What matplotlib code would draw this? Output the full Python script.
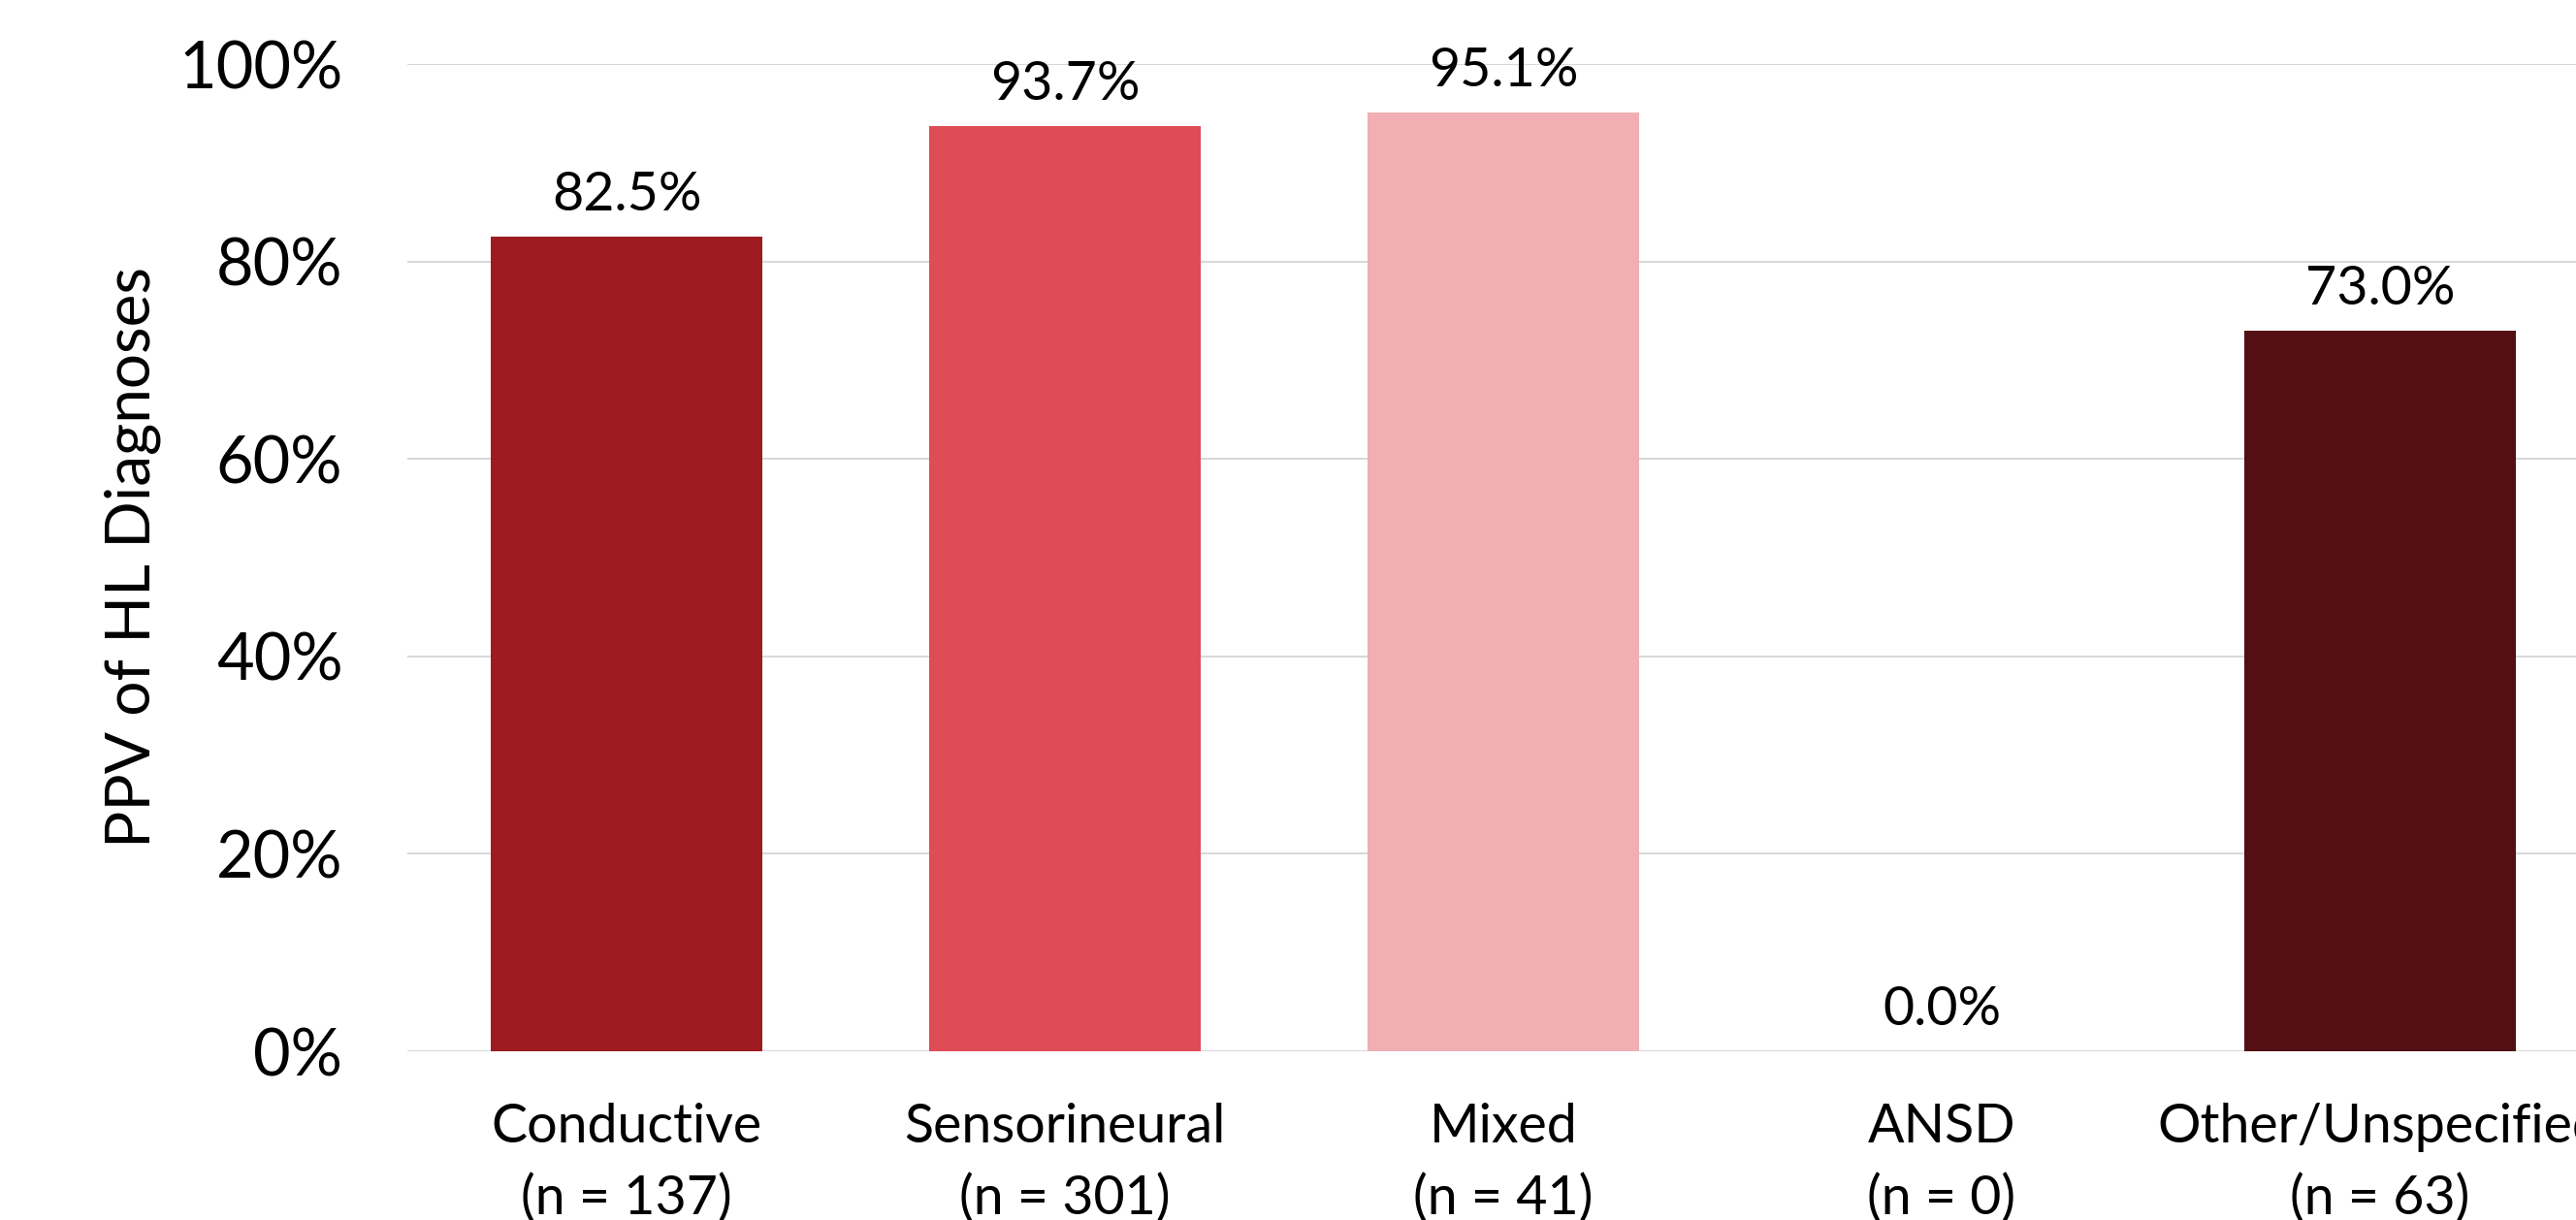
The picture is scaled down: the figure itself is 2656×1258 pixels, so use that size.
import matplotlib
matplotlib.use("Agg")
import matplotlib.pyplot as plt
from matplotlib.ticker import FuncFormatter

plt.rcParams['font.family'] = ['Lato', 'DejaVu Sans']

categories = ["Conductive\n(n = 137)", "Sensorineural\n(n = 301)", "Mixed\n(n = 41)",
              "ANSD\n(n = 0)", "Other/Unspecified\n(n = 63)"]
values = [82.5, 93.7, 95.1, 0.0, 73.0]
colors = ["#9E1B22", "#DF4C55", "#F1AFB4", "#9E1B22", "#530F14"]
yticks = [0, 20, 40, 60, 80, 100]

W, H = 2656, 1258
fig = plt.figure(figsize=(W / 100, H / 100), dpi=100)
left, right = 420, 2680
top, bottom = 66, 1084
ax = fig.add_axes([left / W, 1 - bottom / H, (right - left) / W, (bottom - top) / H])

x = list(range(len(categories)))
bars = ax.bar(x, values, width=0.62, color=colors, zorder=3)
ax.bar_label(bars, labels=[f"{v:.1f}%" for v in values], padding=12, fontsize=40, zorder=4)

ax.set_xlim(-0.5, len(categories) - 0.5)
ax.set_ylim(0, 100)
ax.set_yticks(yticks)
ax.yaxis.set_major_formatter(FuncFormatter(lambda v, p: f"{v:.0f}%"))
ax.set_xticks(x)
ax.set_xticklabels(categories, fontsize=40, linespacing=1.52)
ax.tick_params(axis='y', labelsize=48, length=0, pad=48)
ax.tick_params(axis='x', length=0, pad=38)
ax.grid(axis='y', color="#D9D9D9", linewidth=1.5, zorder=0)
ax.set_axisbelow(True)
for s in ax.spines.values():
    s.set_visible(False)

fig.text(137 / W, 1 - 575 / H, "PPV of HL Diagnoses", rotation=90, ha='center', va='center', fontsize=46)

fig.savefig("out.png", dpi=100)
